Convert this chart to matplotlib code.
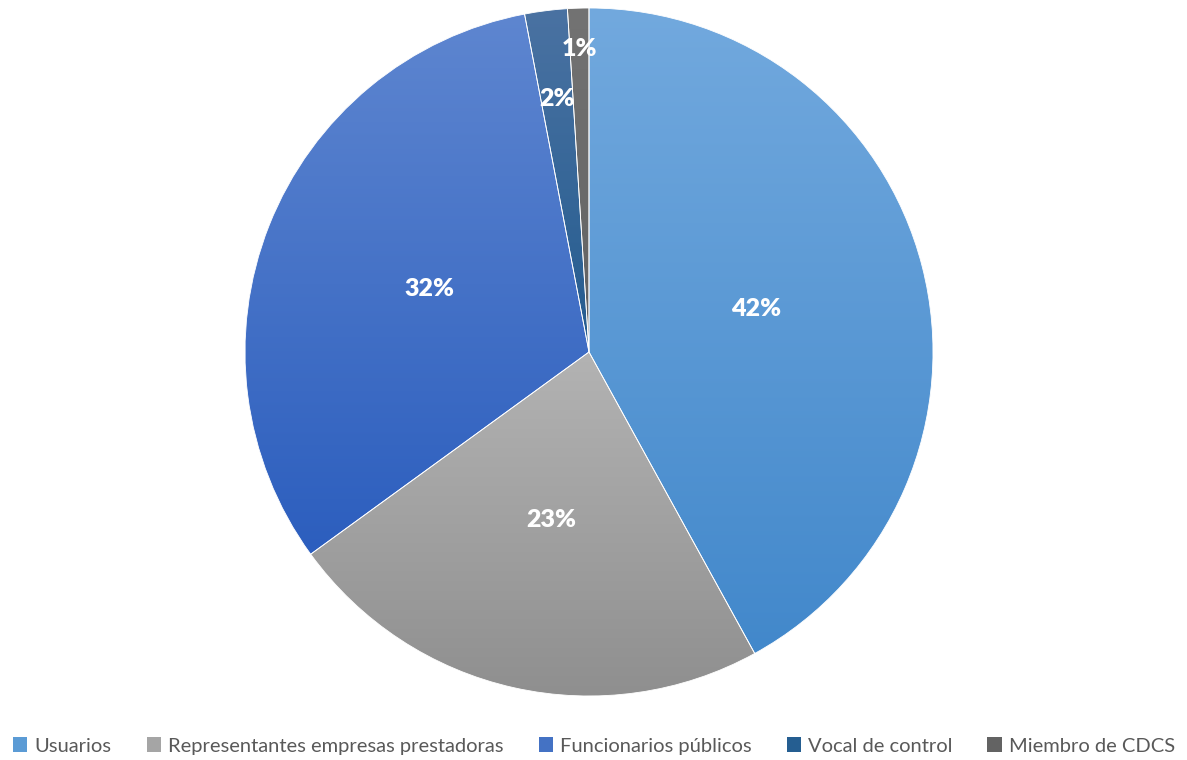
import numpy as np
import matplotlib
matplotlib.use("Agg")
import matplotlib.pyplot as plt
from matplotlib.colors import LinearSegmentedColormap
from matplotlib.patches import Patch

categories = ["Usuarios", "Representantes empresas prestadoras",
              "Funcionarios públicos", "Vocal de control", "Miembro de CDCS"]
shares = [42, 23, 32, 2, 1]

# base colour, top (light) and bottom (dark) of each slice gradient
base_colors = ["#5B9BD5", "#A5A5A5", "#4472C4", "#255E91", "#636363"]
top_colors = ["#72A9DE", "#B3B3B3", "#5E86D0", "#4A72A2", "#737373"]
bottom_colors = ["#4288CB", "#8F8F8F", "#2C5EBE", "#245C8F", "#626262"]
label_radii = [0.5, 0.5, 0.5, 0.74, 0.88]

fig = plt.figure(figsize=(11.87, 7.6), dpi=100)
ax = fig.add_axes([245 / 1187, 64 / 760, 688 / 1187, 688 / 760])

wedges, texts = ax.pie(shares, startangle=90, counterclock=False,
                       wedgeprops=dict(edgecolor="white", linewidth=0.6, facecolor="none"),
                       radius=1.0)

for w, top, bot, val, rl in zip(wedges, top_colors, bottom_colors, shares, label_radii):
    x0, y0, x1, y1 = w.get_path().get_extents().extents
    cmap = LinearSegmentedColormap.from_list("g", [bot, top])
    grad = np.linspace(0, 1, 256).reshape(-1, 1)
    im = ax.imshow(grad, cmap=cmap, extent=(x0, x1, y0, y1), origin="lower",
                   aspect="auto", zorder=0.5)
    im.set_clip_path(w)
    w.set_zorder(1)
    mid = np.deg2rad((w.theta1 + w.theta2) / 2)
    ax.text(rl * np.cos(mid), rl * np.sin(mid), f"{val}%", ha="center", va="center",
            color="white", fontsize=18, fontweight="heavy", family="Lato", zorder=3)

ax.set_xlim(-1, 1)
ax.set_ylim(-1, 1)
ax.set_aspect("equal")
ax.axis("off")

handles = [Patch(facecolor=c, edgecolor="none") for c in base_colors]
fig.legend(handles, categories, loc="center", bbox_to_anchor=(594 / 1187, 1 - 746 / 760),
           ncol=5, frameon=False, labelcolor="#595959",
           handlelength=0.7, handleheight=0.7, handletextpad=0.35, columnspacing=1.75,
           prop=dict(family="Lato", size=14.5))

fig.savefig("out.png", dpi=100)
